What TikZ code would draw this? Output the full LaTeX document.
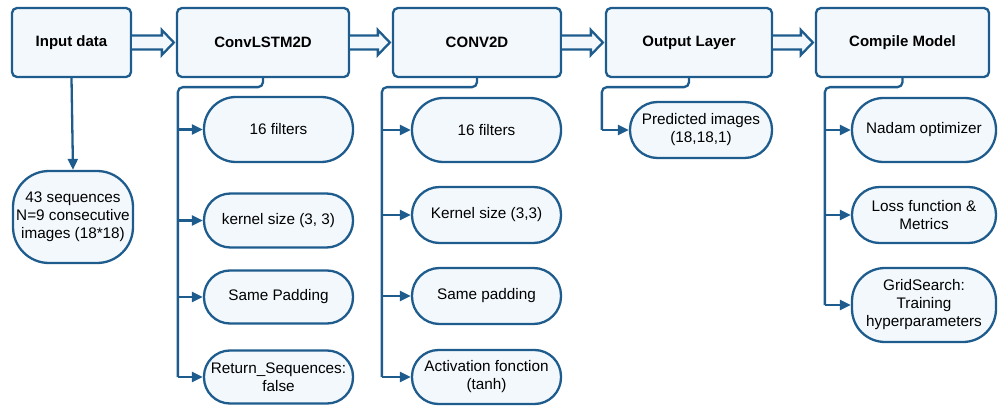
\documentclass[tikz,border=0pt]{standalone}
\usepackage{fontspec}
\setmainfont{Liberation Sans}
\usetikzlibrary{calc,arrows.meta}
\definecolor{edge}{HTML}{1E5C8E}
\definecolor{boxfill}{HTML}{F3F8FC}
\tikzset{
  header/.style={draw=edge, fill=boxfill, line width=2.3pt, rounded corners=5pt,
    font=\fontsize{15}{18}\selectfont\bfseries, align=center, inner sep=0pt},
  pill/.style={draw=edge, fill=boxfill, line width=2.3pt, rounded corners=#1,
    font=\fontsize{15.3}{18}\selectfont, align=center, inner sep=0pt, minimum width=149pt},
  pill/.default=27pt,
  conn/.style={draw=edge, line width=2.3pt, rounded corners=5pt},
  arr/.style={draw=edge, line width=2.3pt, -{Triangle[length=11pt,width=10pt]}},
  fat/.style={draw=edge, fill=boxfill, line width=2.3pt, line join=miter}
}
\newcommand{\fatarrow}[2]{%
  \path[fat] ($(#1.east)+(0,-7)$) -- ($(#2.west)+(-14,-7)$) -- ($(#2.west)+(-14,-12.5)$)
    -- ($(#2.west)+(-2,0)$) -- ($(#2.west)+(-14,12.5)$) -- ($(#2.west)+(-14,7)$)
    -- ($(#1.east)+(0,7)$);}
\begin{document}
\begin{tikzpicture}[x=1pt,y=-1pt]
\useasboundingbox (0,0) rectangle (998,406);

% pipeline stages
\node[header, minimum width=119pt, minimum height=69pt] (inp) at (71.5,42.5) {Input data};
\node[header, minimum width=172pt, minimum height=69pt] (lstm) at (263,42.5) {ConvLSTM2D};
\node[header, minimum width=168pt, minimum height=69pt] (conv) at (477,42.5) {CONV2D};
\node[header, minimum width=166pt, minimum height=69pt] (outl) at (689,42.5) {Output Layer};
\node[header, minimum width=173pt, minimum height=69pt] (comp) at (902.5,42.5) {Compile Model};

% input description
\node[pill=36pt, minimum width=120pt, minimum height=92pt] (inc) at (73,217)
  {43 sequences\\N=9 consecutive\\images (18*18)};

% ConvLSTM2D settings
\node[pill=32pt, minimum height=65pt] (l1) at (278.5,129.5) {16 filters};
\node[pill=26.5pt, minimum height=54pt] (l2) at (278.5,220.5) {kernel size (3, 3)};
\node[pill=26pt, minimum height=53pt] (l3) at (278.5,297) {Same Padding};
\node[pill=26pt, minimum height=53pt] (l4) at (278.5,377) {Return\_Sequences:\\false};

% CONV2D settings
\node[pill=31.5pt, minimum height=64pt] (c1) at (486.5,130) {16 filters};
\node[pill=27.5pt, minimum height=56pt] (c2) at (486.5,215) {Kernel size (3,3)};
\node[pill=27.5pt, minimum height=56pt] (c3) at (486.5,296) {Same padding};
\node[pill=26.5pt, minimum height=54pt] (c4) at (486.5,377) {Activation fonction\\(tanh)};

% output
\node[pill=27.5pt, minimum width=142pt, minimum height=56pt] (o1) at (701,130) {Predicted images\\(18,18,1)};

% compile settings
\node[pill=31.5pt, minimum width=144pt, minimum height=64pt] (m1) at (924,130) {Nadam optimizer};
\node[pill=27.5pt, minimum width=144pt, minimum height=56pt] (m2) at (924,215) {Loss function \&\\Metrics};
\node[pill=33pt, minimum width=144pt, minimum height=74pt] (m3) at (924,305) {GridSearch:\\Training\\hyperparameters};

% flow between stages
\fatarrow{inp}{lstm}
\fatarrow{lstm}{conv}
\fatarrow{conv}{outl}
\fatarrow{outl}{comp}

\draw[arr] (inp.south) -- (inc.north);

% branch buses
\coordinate (lb) at ($(l1.west)+(-25,0)$);
\coordinate (cb) at ($(c1.west)+(-29,0)$);
\coordinate (ob) at ($(o1.west)+(-27,0)$);
\coordinate (mb) at ($(m1.west)+(-26,0)$);

\draw[conn] (lstm.south) -- ++(0,9) -| (lb) -- (l4.west -| lb);
\draw[conn] (conv.south) -- ++(0,9) -| (cb) -- (c4.west -| cb);
\draw[conn] (outl.south) -- ++(0,9) -| (ob) -- (o1.west -| ob);
\draw[conn] (comp.south) -- ++(0,9) -| (mb) -- (m3.west -| mb);

\foreach \n in {l1,l2,l3,l4} \draw[arr] (\n.west -| lb) -- (\n.west);
\foreach \n in {c1,c2,c3,c4} \draw[arr] (\n.west -| cb) -- (\n.west);
\draw[arr] (o1.west -| ob) -- (o1.west);
\foreach \n in {m1,m2,m3} \draw[arr] (\n.west -| mb) -- (\n.west);
\end{tikzpicture}
\end{document}
